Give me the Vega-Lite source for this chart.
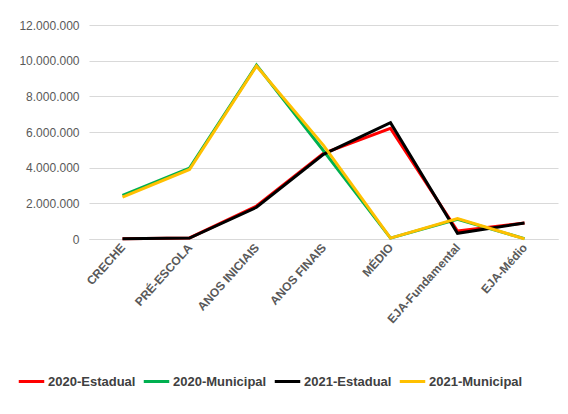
{
  "$schema": "https://vega.github.io/schema/vega-lite/v6.json",
  "width": 469,
  "height": 214,
  "autosize": {"type": "none"},
  "padding": {"left": 89, "top": 25, "right": 10, "bottom": 175},
  "background": "white",
  "config": {
    "locale": {"number": {"decimal": ",", "thousands": ".", "grouping": [3], "currency": ["R$", ""]}},
    "font": "Liberation Sans",
    "view": {"stroke": null}
  },
  "data": {"values": [
    {"etapa": "CRECHE", "serie": "2020-Estadual", "valor": 20000},
    {"etapa": "PRÉ-ESCOLA", "serie": "2020-Estadual", "valor": 60000},
    {"etapa": "ANOS INICIAIS", "serie": "2020-Estadual", "valor": 1850000},
    {"etapa": "ANOS FINAIS", "serie": "2020-Estadual", "valor": 4800000},
    {"etapa": "MÉDIO", "serie": "2020-Estadual", "valor": 6200000},
    {"etapa": "EJA-Fundamental", "serie": "2020-Estadual", "valor": 450000},
    {"etapa": "EJA-Médio", "serie": "2020-Estadual", "valor": 900000},
    {"etapa": "CRECHE", "serie": "2020-Municipal", "valor": 2450000},
    {"etapa": "PRÉ-ESCOLA", "serie": "2020-Municipal", "valor": 3980000},
    {"etapa": "ANOS INICIAIS", "serie": "2020-Municipal", "valor": 9750000},
    {"etapa": "ANOS FINAIS", "serie": "2020-Municipal", "valor": 4950000},
    {"etapa": "MÉDIO", "serie": "2020-Municipal", "valor": 50000},
    {"etapa": "EJA-Fundamental", "serie": "2020-Municipal", "valor": 1100000},
    {"etapa": "EJA-Médio", "serie": "2020-Municipal", "valor": 20000},
    {"etapa": "CRECHE", "serie": "2021-Estadual", "valor": 10000},
    {"etapa": "PRÉ-ESCOLA", "serie": "2021-Estadual", "valor": 50000},
    {"etapa": "ANOS INICIAIS", "serie": "2021-Estadual", "valor": 1780000},
    {"etapa": "ANOS FINAIS", "serie": "2021-Estadual", "valor": 4750000},
    {"etapa": "MÉDIO", "serie": "2021-Estadual", "valor": 6520000},
    {"etapa": "EJA-Fundamental", "serie": "2021-Estadual", "valor": 320000},
    {"etapa": "EJA-Médio", "serie": "2021-Estadual", "valor": 900000},
    {"etapa": "CRECHE", "serie": "2021-Municipal", "valor": 2350000},
    {"etapa": "PRÉ-ESCOLA", "serie": "2021-Municipal", "valor": 3900000},
    {"etapa": "ANOS INICIAIS", "serie": "2021-Municipal", "valor": 9700000},
    {"etapa": "ANOS FINAIS", "serie": "2021-Municipal", "valor": 5250000},
    {"etapa": "MÉDIO", "serie": "2021-Municipal", "valor": 50000},
    {"etapa": "EJA-Fundamental", "serie": "2021-Municipal", "valor": 1150000},
    {"etapa": "EJA-Médio", "serie": "2021-Municipal", "valor": 10000}
  ]},
  "mark": {"type": "line", "strokeWidth": 3},
  "encoding": {
    "x": {
      "field": "etapa", "type": "nominal",
      "sort": ["CRECHE", "PRÉ-ESCOLA", "ANOS INICIAIS", "ANOS FINAIS", "MÉDIO", "EJA-Fundamental", "EJA-Médio"],
      "scale": {"type": "point", "padding": 0.5},
      "axis": {
        "title": null, "labelAngle": -48, "ticks": false, "grid": false,
        "domainColor": "#d9d9d9", "domainWidth": 1,
        "labelColor": "#595959", "labelFontSize": 12, "labelFontWeight": "bold", "labelPadding": 6
      }
    },
    "y": {
      "field": "valor", "type": "quantitative",
      "scale": {"domain": [0, 12000000]},
      "axis": {
        "title": null, "values": [0, 2000000, 4000000, 6000000, 8000000, 10000000, 12000000],
        "format": ",d", "domain": false, "ticks": false,
        "gridColor": "#d9d9d9", "gridWidth": 1,
        "labelColor": "#595959", "labelFontSize": 12, "labelPadding": 10
      }
    },
    "color": {
      "field": "serie", "type": "nominal",
      "scale": {
        "domain": ["2020-Estadual", "2020-Municipal", "2021-Estadual", "2021-Municipal"],
        "range": ["#ff0000", "#00b050", "#000000", "#ffc000"]
      },
      "legend": {
        "title": null, "orient": "none", "direction": "horizontal", "columns": 4, "gridAlign": "none",
        "legendX": -72, "legendY": 342,
        "symbolType": "stroke", "symbolSize": 650, "symbolStrokeWidth": 3,
        "labelFontSize": 13, "labelFontWeight": "bold", "labelColor": "#404040",
        "labelOffset": 2, "columnPadding": 1
      }
    }
  }
}
